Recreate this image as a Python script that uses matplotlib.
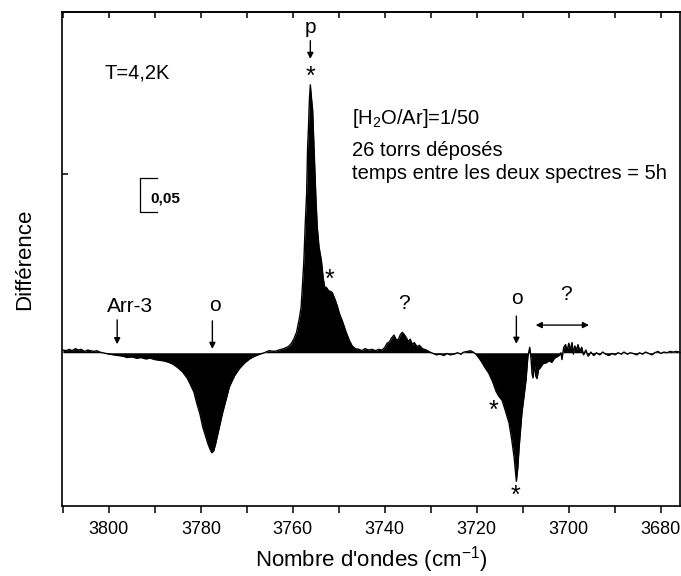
import matplotlib
matplotlib.use('Agg')
import matplotlib.pyplot as plt
import numpy as np

plt.rcParams['font.family'] = ['Liberation Sans', 'DejaVu Sans']
plt.rcParams['mathtext.fontset'] = 'custom'
plt.rcParams['mathtext.rm'] = 'Liberation Sans'
plt.rcParams['mathtext.it'] = 'Liberation Sans:italic'
plt.rcParams['mathtext.bf'] = 'Liberation Sans:bold'

# spectre difference (nombre d'onde, difference)
wn = [3810, 3809.3, 3808.6, 3808, 3807.3, 3806.6, 3806, 3805.3, 3804.6, 3804,
      3803.3, 3802.6, 3802, 3801.3, 3800.6, 3800,
      3799, 3798, 3797, 3796, 3795, 3794, 3793, 3792, 3791, 3790,
      3789, 3788, 3787, 3786, 3785, 3784, 3783, 3782.4, 3781.5, 3780.9,
      3780.2, 3779.6, 3779, 3778.5, 3778, 3777.6, 3777.2, 3776.8, 3776.4, 3775.8,
      3775.3, 3774.5, 3773.8, 3772.7, 3771.6, 3770.5, 3769.4, 3768.3, 3767.2, 3766.2,
      3765.2, 3764, 3763, 3762, 3761, 3760.4, 3759.8, 3759.2, 3758.6, 3758.2,
      3757.9, 3757.6, 3757.3, 3757.0, 3756.8, 3756.6, 3756.4, 3756.2, 3756.0, 3755.7,
      3755.5, 3755.3, 3755.0, 3754.7, 3754.3, 3753.8, 3753.4, 3753.1, 3752.7, 3752.2,
      3751.7, 3751.4, 3750.8, 3750.3, 3749.9, 3749.2, 3748.4, 3747.7, 3747.1, 3746.4,
      3745.6, 3745, 3744.3, 3743.5, 3742.8, 3742, 3741.3, 3740.6, 3740, 3739.5,
      3739, 3738.5, 3738, 3737.6, 3737.1, 3736.6, 3736.2, 3735.8, 3735.3, 3734.9,
      3734.5, 3734, 3733.6, 3733, 3732.5, 3731.8, 3731, 3730.2, 3729.5, 3728.8,
      3728, 3727.2, 3726.5, 3725.8, 3725, 3724.2, 3723.5, 3722.8, 3722, 3721.4,
      3720.8, 3720.2, 3719.6, 3718.9, 3718.2, 3717.4, 3716.6, 3715.8, 3715.2, 3714.5,
      3713.8, 3713.0, 3712.4, 3711.9, 3711.6, 3711.4, 3711.1, 3710.8, 3710.5, 3710.2,
      3709.7, 3709.3, 3708.9, 3708.5, 3708.2, 3708, 3707.8, 3707.6, 3707.4, 3707.2,
      3706.9, 3706.6, 3706.1, 3705.6, 3705, 3704.3, 3703.7, 3703.1, 3702.6, 3702.1,
      3701.7, 3701.5, 3701.1, 3700.7, 3700.4, 3700.0, 3699.7, 3699.3, 3699.0, 3698.7,
      3698.3, 3698, 3697.6, 3697.2, 3696.8, 3696.3, 3695.8, 3695.2, 3694.6, 3694,
      3693.3, 3692.6, 3692, 3691.3, 3690.6, 3690, 3689.3, 3688.6, 3688, 3687.3,
      3686.6, 3686, 3685.3, 3684.6, 3684, 3683.3, 3682.6, 3682, 3681.3, 3680.6,
      3680, 3679.3, 3678.6, 3678, 3677.3, 3676.6, 3676, 3675.5]
diff = [0.004, 0.003, 0.005, 0.003, 0.006, 0.004, 0.005, 0.002, 0.004, 0.003,
        0.002, 0.003, 0.001, 0.0, -0.001, -0.002,
        -0.003, -0.004, -0.005, -0.007, -0.006, -0.008, -0.007, -0.009, -0.008, -0.010,
        -0.011, -0.012, -0.014, -0.017, -0.022, -0.028, -0.037, -0.045, -0.058, -0.074,
        -0.090, -0.109, -0.122, -0.133, -0.142, -0.147, -0.144, -0.134, -0.122, -0.104,
        -0.089, -0.068, -0.050, -0.034, -0.023, -0.015, -0.009, -0.005, -0.002, 0.000,
        0.003, 0.002, 0.004, 0.006, 0.009, 0.013, 0.020, 0.030, 0.050, 0.067,
        0.100, 0.136, 0.190, 0.235, 0.300, 0.332, 0.372, 0.394, 0.378, 0.357,
        0.320, 0.283, 0.230, 0.185, 0.155, 0.136, 0.110, 0.097, 0.096, 0.091,
        0.090, 0.088, 0.078, 0.068, 0.058, 0.046, 0.030, 0.018, 0.010, 0.006,
        0.005, 0.003, 0.006, 0.004, 0.005, 0.003, 0.005, 0.004, 0.008, 0.014,
        0.016, 0.022, 0.026, 0.020, 0.019, 0.027, 0.030, 0.027, 0.022, 0.016,
        0.020, 0.012, 0.015, 0.009, 0.011, 0.006, 0.004, 0.001, -0.001, -0.003,
        -0.002, -0.004, -0.001, -0.003, -0.002, 0.000, -0.002, 0.001, 0.002, 0.003,
        0.001, -0.002, -0.007, -0.014, -0.022, -0.030, -0.042, -0.057, -0.064, -0.070,
        -0.085, -0.103, -0.128, -0.153, -0.175, -0.189, -0.170, -0.139, -0.113, -0.089,
        -0.062, -0.040, -0.006, 0.008, -0.010, -0.030, -0.037, -0.025, -0.018, -0.034,
        -0.038, -0.025, -0.021, -0.016, -0.015, -0.012, -0.014, -0.008, -0.006, -0.004,
        0.000, -0.010, 0.008, 0.012, 0.002, 0.014, 0.004, 0.015, -0.002, 0.010,
        0.004, 0.012, 0.002, 0.008, -0.003, 0.004, -0.005, 0.001, -0.004, 0.000,
        -0.003, 0.001, -0.002, -0.004, -0.001, -0.003, 0.000, -0.002, 0.001, -0.002,
        0.000, -0.001, -0.003, 0.000, -0.002, 0.001, -0.001, -0.003, 0.000, 0.002,
        -0.001, 0.001, 0.000, 0.002, 0.001, 0.002, 0.001, 0.002]

wn = np.array(wn)
diff = np.array(diff)

fig = plt.figure(figsize=(6.81, 5.76), dpi=100)
ax = fig.add_axes([0.091, 0.1215, 0.907, 0.8575])

ax.fill_between(wn, diff, 0, color='black', linewidth=0)
ax.plot(wn, diff, color='black', linewidth=1.0)

ax.set_xlim(3810.2, 3675.9)
ax.set_ylim(-0.2254, 0.501)

ax.set_xticks(np.arange(3800, 3679, -20))
ax.set_xticks(np.arange(3810, 3675, -10), minor=True)
ax.tick_params(axis='x', which='both', direction='out', length=5, width=1.1,
               labelsize=13, pad=6)
ax.set_yticks([0.263])
ax.set_yticklabels([])
ax.tick_params(axis='y', direction='in', length=4, width=1.1)
for s in ax.spines.values():
    s.set_linewidth(1.2)

# ticks du haut vers l'interieur
top = ax.secondary_xaxis('top')
top.set_xticks(np.arange(3800, 3679, -20))
top.set_xticks(np.arange(3810, 3675, -10), minor=True)
top.tick_params(which='both', direction='in', length=4, width=1.1, labeltop=False)
top.spines['top'].set_linewidth(1.2)

ax.set_xlabel("Nombre d'ondes (cm$^{-1}$)", fontsize=16, labelpad=4)
ax.set_ylabel('Différence', fontsize=16, labelpad=16)

fs = 14.5
ax.text(3800.9, 0.411, 'T=4,2K', fontsize=fs, va='center', ha='left')
ax.text(3747.2, 0.345, '[H$_2$O/Ar]=1/50', fontsize=fs, va='center', ha='left')
ax.text(3747.2, 0.298, '26 torrs déposés', fontsize=fs, va='center', ha='left')
ax.text(3747.2, 0.263, 'temps entre les deux spectres = 5h', fontsize=fs,
        va='center', ha='left')

# barre d'echelle 0,05
ax.plot([3789.6, 3793.3, 3793.3, 3789.6], [0.2566, 0.2566, 0.2066, 0.2066],
        color='black', linewidth=0.9)
ax.text(3790.9, 0.2275, '0,05', fontsize=11, fontweight='bold', va='center', ha='left')

arr = dict(arrowstyle='-|>', color='black', lw=1.0, mutation_scale=9)
ax.text(3756.2, 0.478, 'p', fontsize=15, ha='center', va='center')
ax.annotate('', xy=(3756.2, 0.428), xytext=(3756.2, 0.463), arrowprops=arr)
ax.text(3795.4, 0.0676, 'Arr-3', fontsize=15, ha='center', va='center')
ax.annotate('', xy=(3798.2, 0.0084), xytext=(3798.2, 0.0525), arrowprops=arr)
ax.text(3777.0, 0.070, 'o', fontsize=15, ha='center', va='center')
ax.annotate('', xy=(3777.5, 0.0015), xytext=(3777.5, 0.051), arrowprops=arr)
ax.text(3711.3, 0.080, 'o', fontsize=15, ha='center', va='center')
ax.annotate('', xy=(3711.4, 0.009), xytext=(3711.4, 0.058), arrowprops=arr)
ax.text(3735.8, 0.073, '?', fontsize=15, ha='center', va='center')
ax.text(3700.7, 0.085, '?', fontsize=15, ha='center', va='center')
ax.annotate('', xy=(3695.0, 0.0407), xytext=(3707.8, 0.0407),
            arrowprops=dict(arrowstyle='<|-|>', color='black', lw=1.0, mutation_scale=9))

for x, y in [(3756.2, 0.406), (3752.1, 0.107), (3716.3, -0.085), (3711.6, -0.210)]:
    ax.text(x, y, '*', fontsize=18, ha='center', va='center')

fig.savefig('out.png', dpi=100)
